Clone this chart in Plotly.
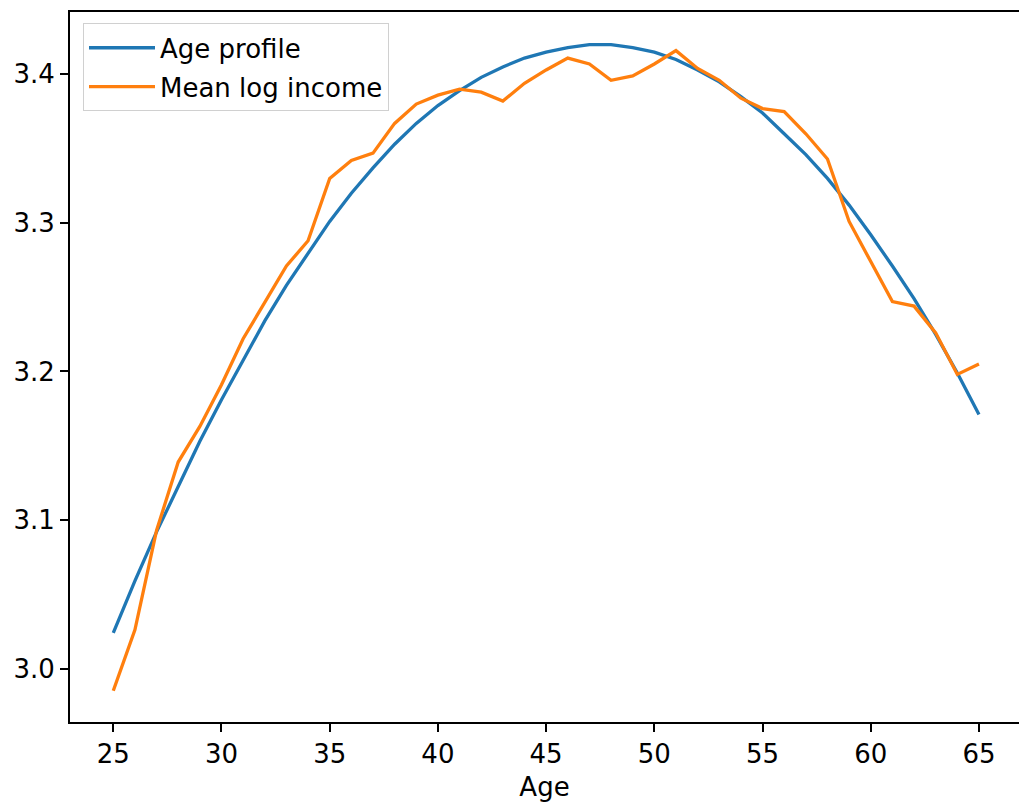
import plotly.graph_objects as go

# Age grid and the two series
ages = list(range(25, 66))

age_profile = [
    3.024, 3.059, 3.092, 3.123, 3.153, 3.181, 3.208, 3.234, 3.258, 3.280,
    3.301, 3.320, 3.337, 3.353, 3.367, 3.379, 3.389, 3.398, 3.405, 3.411,
    3.415, 3.418, 3.420, 3.420, 3.418, 3.415, 3.410, 3.403, 3.395, 3.385,
    3.374, 3.360, 3.346, 3.330, 3.312, 3.292, 3.271, 3.249, 3.225, 3.199,
    3.171,
]

mean_log_income = [
    2.985, 3.026, 3.093, 3.139, 3.163, 3.191, 3.222, 3.247, 3.271, 3.288,
    3.330, 3.342, 3.347, 3.367, 3.380, 3.386, 3.390, 3.388, 3.382, 3.394,
    3.403, 3.411, 3.407, 3.396, 3.399, 3.407, 3.416, 3.404, 3.396, 3.384,
    3.377, 3.375, 3.360, 3.343, 3.301, 3.274, 3.247, 3.244, 3.226, 3.198,
    3.205,
]

x_ticks = [25, 30, 35, 40, 45, 50, 55, 60, 65]
y_ticks = [3.0, 3.1, 3.2, 3.3, 3.4]

FONT = "DejaVu Sans"
SIZE = 26

fig = go.Figure()
fig.add_trace(go.Scatter(
    x=ages, y=age_profile, mode="lines", name="Age profile",
    line=dict(color="#1f77b4", width=3.3), legendgroup="a",
))
fig.add_trace(go.Scatter(
    x=ages, y=mean_log_income, mode="lines", name="Mean log income",
    line=dict(color="#ff7f0e", width=3.3), legendgroup="b",
))

fig.update_layout(
    width=1019, height=808,
    margin=dict(l=70, r=0, t=12, b=86),
    paper_bgcolor="white", plot_bgcolor="white",
    font=dict(family=FONT, size=SIZE, color="black"),
    showlegend=True,
    legend=dict(
        x=0.0137, y=0.984, xanchor="left", yanchor="top",
        bgcolor="rgba(255,255,255,0.8)", bordercolor="#d0d0d0", borderwidth=1,
        font=dict(family=FONT, size=SIZE, color="black"),
        tracegroupgap=2, itemwidth=66,
    ),
    xaxis=dict(
        range=[23.0, 66.85], tickvals=x_ticks, ticktext=[str(t) for t in x_ticks],
        showgrid=False, zeroline=False, showline=True, linecolor="black", linewidth=1.8,
        mirror=True, ticks="outside", ticklen=8, tickwidth=1.6, tickcolor="black",
        tickfont=dict(family=FONT, size=SIZE),
        title=dict(text="Age", font=dict(family=FONT, size=SIZE), standoff=10),
    ),
    yaxis=dict(
        range=[2.964, 3.442], tickvals=y_ticks, ticktext=["3.0", "3.1", "3.2", "3.3", "3.4"],
        showgrid=False, zeroline=False, showline=True, linecolor="black", linewidth=1.8,
        ticks="outside", ticklen=8, tickwidth=1.6, tickcolor="black",
        tickfont=dict(family=FONT, size=SIZE),
    ),
)

fig.write_html("out.html")
